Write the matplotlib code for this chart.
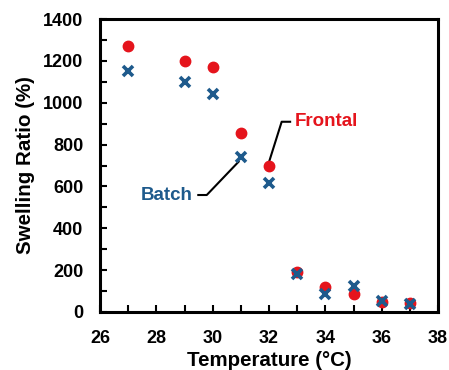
import matplotlib
matplotlib.use("Agg")
import matplotlib.pyplot as plt
from matplotlib.ticker import MultipleLocator

plt.rcParams['font.family'] = ['Liberation Sans', 'DejaVu Sans']
plt.rcParams['font.weight'] = 'bold'

temperature = [27, 29, 30, 31, 32, 33, 34, 35, 36, 37]
frontal = [1270, 1200, 1170, 855, 700, 190, 120, 86, 49, 41]
batch = [1150, 1100, 1040, 740, 615, 181, 86, 126, 54, 38]

RED = '#E5141C'
BLUE = '#1E5A8C'

fig = plt.figure(figsize=(4.49, 3.70), dpi=100)
ax = fig.add_axes([100/449, 1-312/370, 338/449, 293/370])

ax.plot(temperature, frontal, 'o', color=RED, markersize=7.5, linestyle='none', zorder=3)
ax.plot(temperature, batch, 'x', color=BLUE, markersize=6.5, markeredgewidth=2.6, linestyle='none', zorder=4)

ax.set_xlim(26, 38)
ax.set_ylim(0, 1400)
ax.xaxis.set_major_locator(MultipleLocator(2))
ax.xaxis.set_minor_locator(MultipleLocator(1))
ax.yaxis.set_major_locator(MultipleLocator(200))
ax.yaxis.set_minor_locator(MultipleLocator(100))
ax.tick_params(axis='both', which='both', direction='in', labelsize=13, top=False, right=False)
ax.tick_params(axis='both', which='major', length=5, width=1.5)
ax.tick_params(axis='both', which='minor', length=5, width=1.5)
ax.tick_params(axis='x', which='major', pad=13)
ax.tick_params(axis='y', which='major', pad=12)
for lbl in ax.get_xticklabels() + ax.get_yticklabels():
    lbl.set_fontweight('bold')
for sp in ax.spines.values():
    sp.set_linewidth(2.2)

ax.set_xlabel('Temperature (°C)', fontsize=14.8, fontweight='bold', labelpad=3)
ax.set_ylabel('Swelling Ratio (%)', fontsize=14.8, fontweight='bold', labelpad=6)

# Frontal leader line and label
ax.plot([32.02, 32.45, 32.75], [725, 909, 909], color='black', lw=1.5, zorder=2)
ax.text(32.9, 909, 'Frontal', color=RED, fontsize=13.5, fontweight='bold', ha='left', va='center')

# Batch leader line and label
ax.plot([29.49, 29.79, 30.92], [559, 559, 718], color='black', lw=1.5, zorder=2)
ax.text(29.3, 559, 'Batch', color=BLUE, fontsize=13.5, fontweight='bold', ha='right', va='center')

fig.savefig('out.png', dpi=100)
